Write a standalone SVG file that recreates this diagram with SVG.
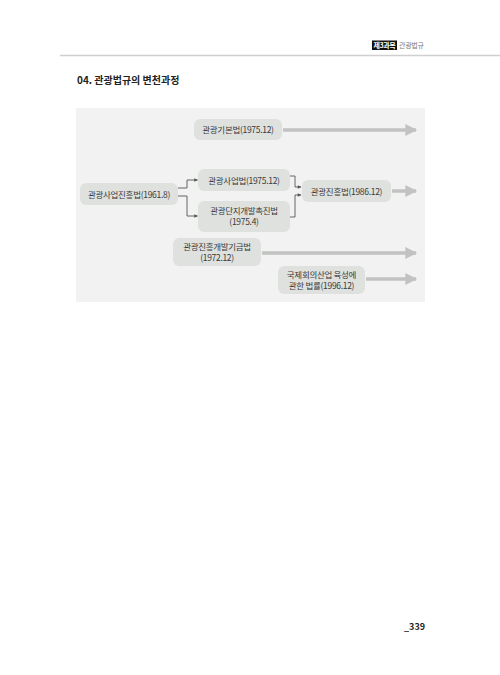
<svg xmlns="http://www.w3.org/2000/svg" width="500" height="675" viewBox="0 0 500 675">
<defs>
<style>
.t{font-family:"Noto Sans CJK KR","Noto Sans",sans-serif;font-size:8.5px;fill:#3a3a3a;text-anchor:middle;letter-spacing:-0.3px}
.node{fill:#dfe1df}
.big{stroke:#c2c2c2;stroke-width:3.5;fill:none}
.thin{stroke:#555;stroke-width:0.9;fill:none}
</style>
<marker id="bigArrow" viewBox="0 0 10 10" refX="9" refY="5" markerWidth="4.2" markerHeight="3.4" orient="auto" markerUnits="strokeWidth">
<path d="M0,0 L10,5 L0,10 z" fill="#c2c2c2"/>
</marker>
<marker id="smallArrow" viewBox="0 0 10 10" refX="9" refY="5" markerWidth="5" markerHeight="4" orient="auto" markerUnits="strokeWidth">
<path d="M0,0 L10,5 L0,10 z" fill="#555"/>
</marker>
</defs>
<rect width="500" height="675" fill="#ffffff"/>
<g id="header">
<rect x="372" y="40.5" width="25" height="9.5" fill="#111"/>
<text x="384.5" y="48.3" style="font-family:'Noto Sans CJK KR',sans-serif;font-size:7px;font-weight:bold;fill:#fff;text-anchor:middle;letter-spacing:-0.4px">제3과목</text>
<text x="399" y="48.3" style="font-family:'Noto Sans CJK KR',sans-serif;font-size:7px;fill:#777;letter-spacing:-0.3px">관광법규</text>
<line x1="60" y1="55.5" x2="500" y2="55.5" stroke="#cfcfcf" stroke-width="1.5"/>
</g>
<text id="title" x="77" y="84" style="font-family:'Noto Sans CJK KR',sans-serif;font-size:10px;font-weight:bold;fill:#222">04. 관광법규의 변천과정</text>
<rect id="panel" x="76" y="108" width="349" height="194" fill="#f2f2f2"/>
<g id="connectors">
<line class="big" x1="283" y1="130" x2="416" y2="130" marker-end="url(#bigArrow)"/>
<line class="big" x1="392" y1="191" x2="416" y2="191" marker-end="url(#bigArrow)"/>
<line class="big" x1="262" y1="253" x2="416" y2="253" marker-end="url(#bigArrow)"/>
<line class="big" x1="366" y1="279" x2="416" y2="279" marker-end="url(#bigArrow)"/>
<path class="thin" d="M178,188 H187 V180 H197.5" marker-end="url(#smallArrow)"/>
<path class="thin" d="M178,196 H187 V216 H197.5" marker-end="url(#smallArrow)"/>
<path class="thin" d="M290,176 H295 V187 H301" marker-end="url(#smallArrow)"/>
<path class="thin" d="M290,217 H295 V195 H301" marker-end="url(#smallArrow)"/>
</g>
<g id="n1"><rect class="node" x="194" y="119" width="88" height="21" rx="6"/><text class="t" x="238" y="133">관광기본법(1975.12)</text></g>
<g id="n2"><rect class="node" x="80" y="183" width="98" height="22" rx="6"/><text class="t" x="129" y="197.5">관광사업진흥법(1961.8)</text></g>
<g id="n3"><rect class="node" x="198" y="169" width="92" height="22" rx="6"/><text class="t" x="244" y="183.5">관광사업법(1975.12)</text></g>
<g id="n4"><rect class="node" x="198" y="201" width="92" height="31" rx="6"/><text class="t" x="244" y="213.5">관광단지개발촉진법</text><text class="t" x="244" y="225">(1975.4)</text></g>
<g id="n5"><rect class="node" x="302" y="180" width="89" height="22" rx="6"/><text class="t" x="346.5" y="194.5">관광진흥법(1986.12)</text></g>
<g id="n6"><rect class="node" x="173" y="238" width="88" height="28" rx="6"/><text class="t" x="217" y="249.5">관광진흥개발기금법</text><text class="t" x="217" y="261">(1972.12)</text></g>
<g id="n7"><rect class="node" x="278" y="266" width="87" height="28" rx="6"/><text class="t" x="321.5" y="277.5">국제회의산업 육성에</text><text class="t" x="321.5" y="289">관한 법률(1996.12)</text></g>
<text id="page" x="404" y="630" style="font-family:'Noto Sans CJK KR',sans-serif;font-size:9px;font-weight:bold;fill:#222">_339</text>
</svg>
